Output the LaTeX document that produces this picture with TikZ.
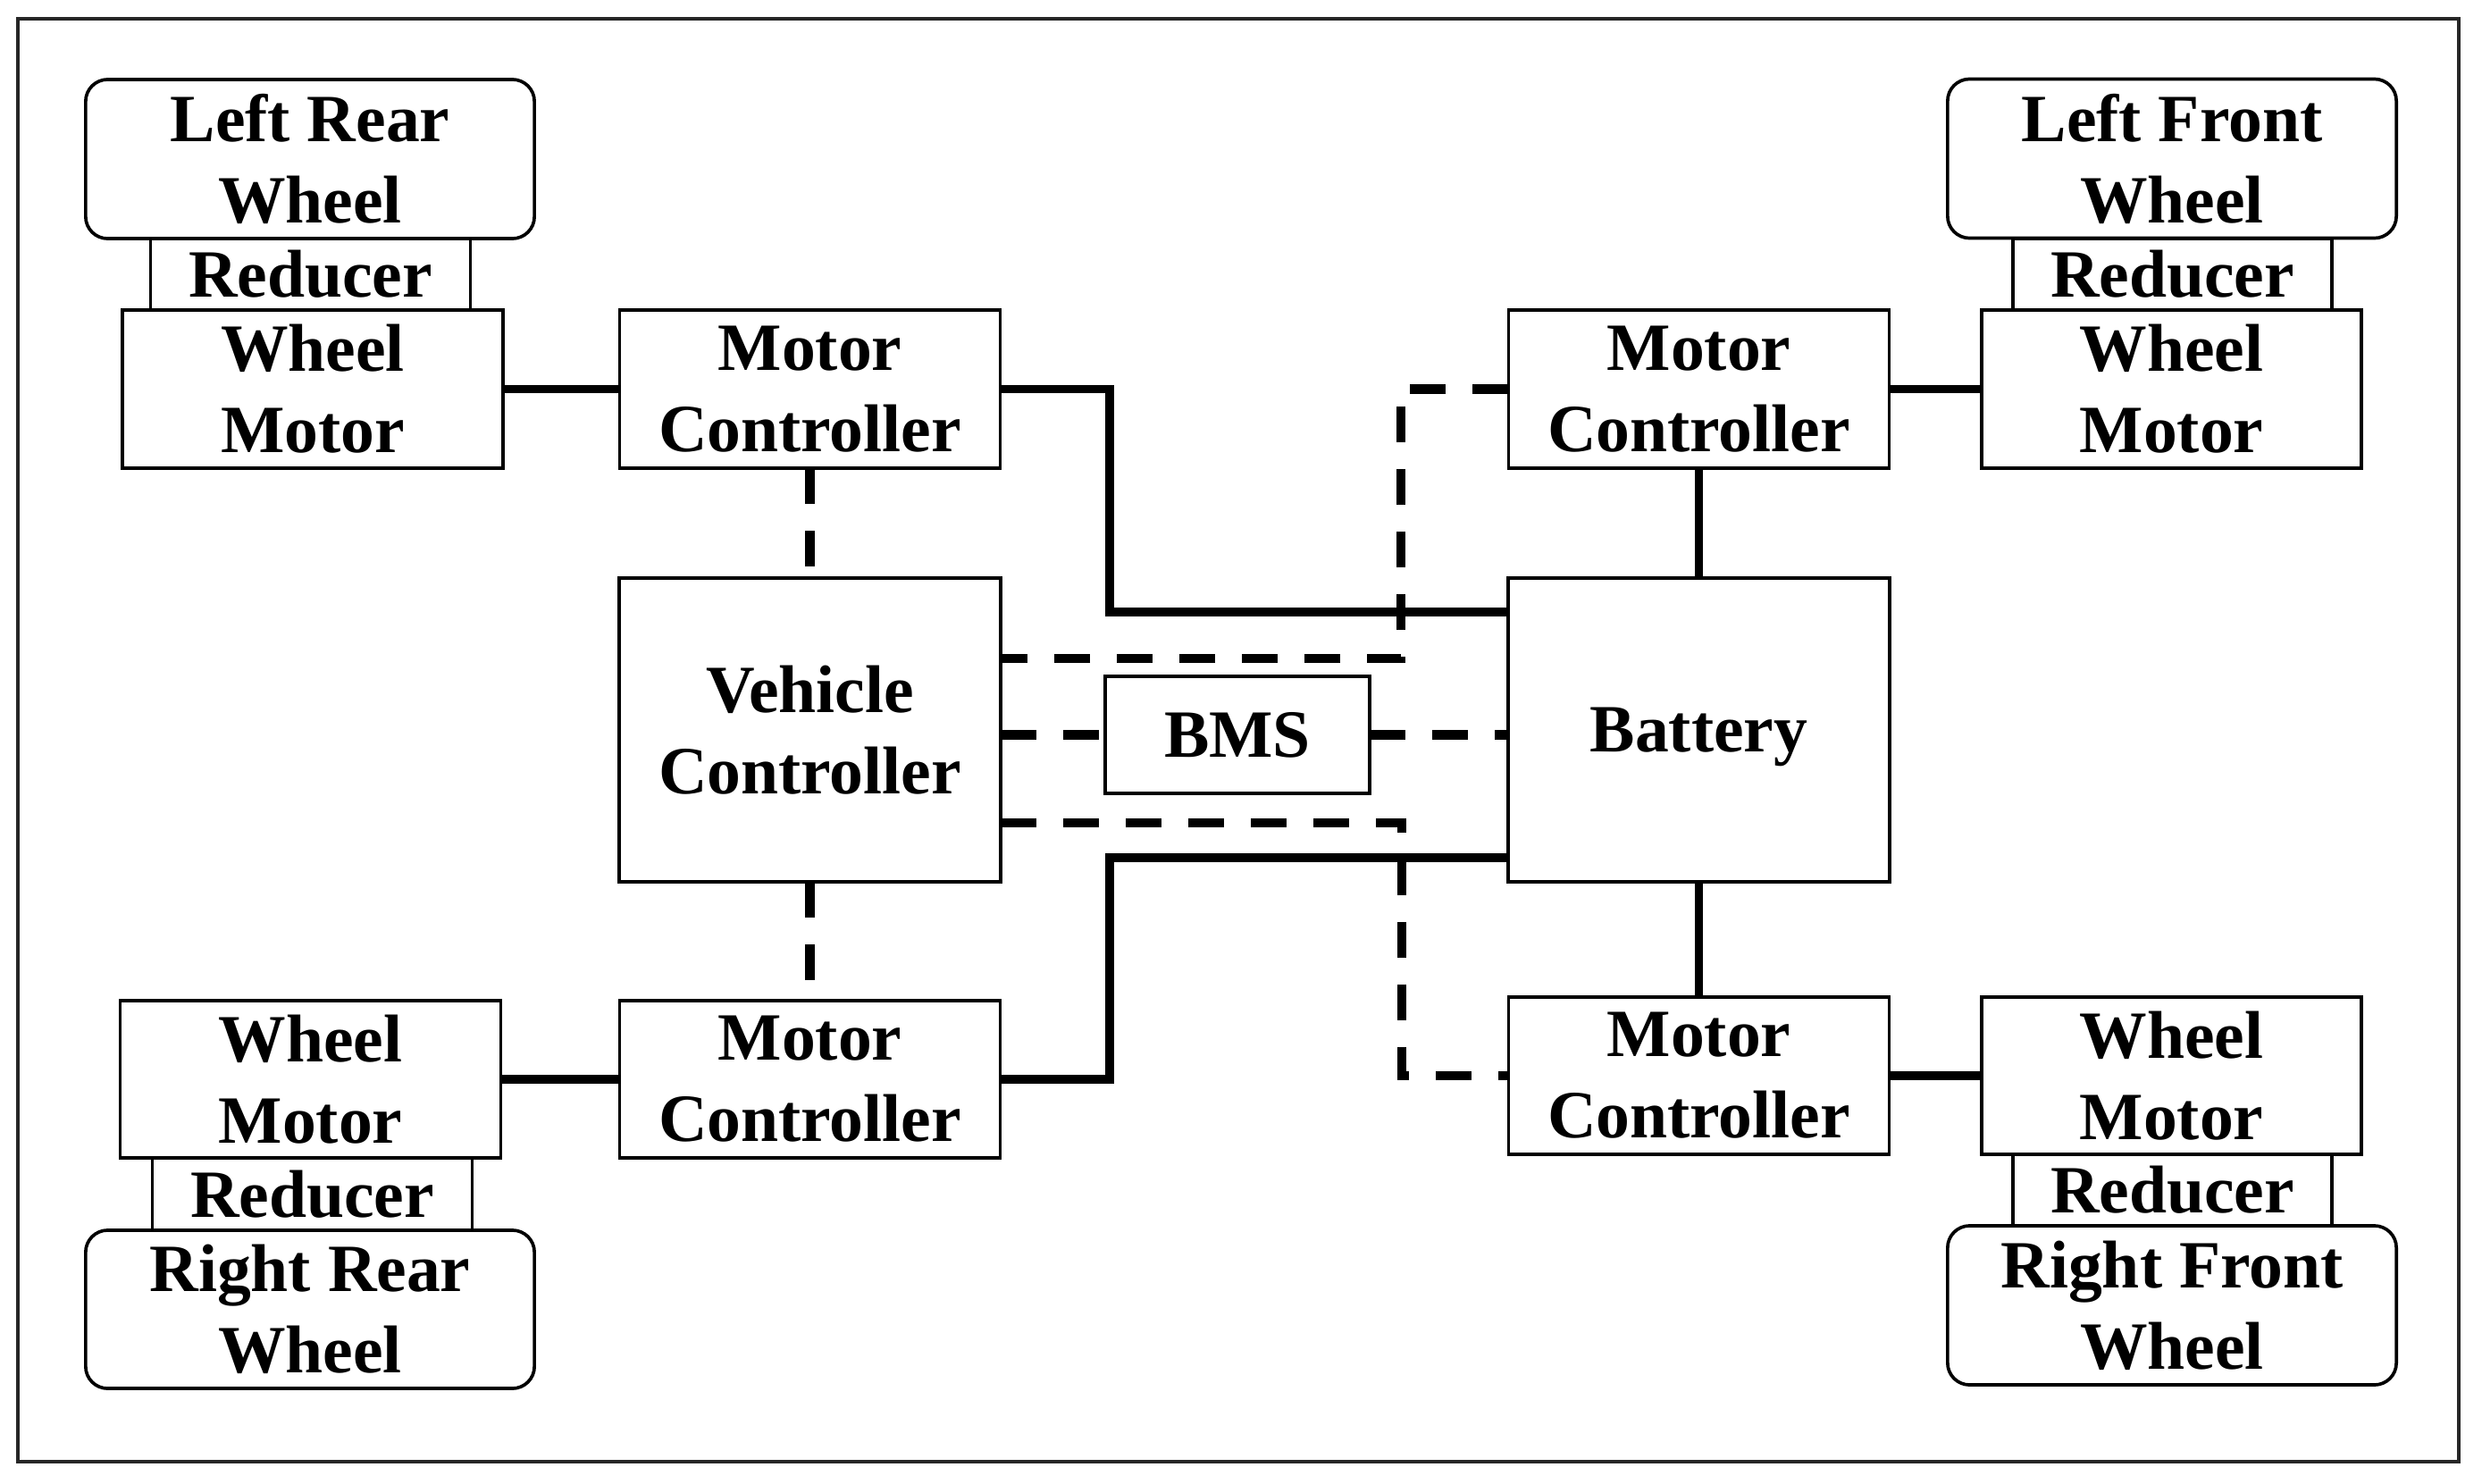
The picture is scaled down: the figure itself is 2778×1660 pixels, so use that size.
\documentclass[tikz,border=0pt]{standalone}
\usepackage{fontspec}
\setmainfont{Liberation Serif}
\begin{document}
\begin{tikzpicture}[x=0.01cm,y=-0.01cm,
  every node/.style={font=\fontsize{21.5}{25.9}\selectfont\bfseries, inner sep=0pt, outer sep=0pt, align=center},
  blk/.style={draw, line width=1.05pt, fill=white},
  wheelbox/.style={blk, rounded corners=7pt, minimum width=5.02cm, minimum height=1.78cm},
  redbox/.style={blk, minimum width=3.58cm, minimum height=0.80cm},
  unitbox/.style={blk, minimum width=4.26cm, minimum height=1.77cm},
  bigbox/.style={blk, minimum width=4.27cm, minimum height=3.40cm},
  power/.style={line width=2.75pt},
  signal/.style={line width=2.9pt, dash pattern=on 11.4pt off 8.5pt}]
\useasboundingbox (0,0) rectangle (2778,1660);
\draw[line width=1.3pt, black!85] (20,21) rectangle (2752,1636);

% left top group
\node[wheelbox] (LRW) at (347,178) {Left Rear\\Wheel};
\node[redbox] (RedTL) at (347.5,307) {Reducer};
\node[unitbox] (WMTL) at (350,435.5) {Wheel\\Motor};
\node[unitbox] (MCTL) at (906.5,435.5) {Motor\\Controller};

% center
\node[bigbox] (VC) at (906.5,817) {Vehicle\\Controller};
\node[blk, minimum width=2.96cm, minimum height=1.31cm, text depth=0pt] (BMS) at (1385,822.5) {BMS};
\node[bigbox, text depth=0pt] (Bat) at (1901.5,817) {Battery};

% right top group
\node[unitbox] (MCTR) at (1901.5,435.5) {Motor\\Controller};
\node[unitbox, minimum width=4.25cm] (WMTR) at (2430.5,435.5) {Wheel\\Motor};
\node[redbox, minimum width=3.57cm] (RedTR) at (2431.5,307) {Reducer};
\node[wheelbox] (LFW) at (2431,177.5) {Left Front\\Wheel};

% left bottom group
\node[unitbox, minimum height=1.76cm] (MCBL) at (906.5,1208) {Motor\\Controller};
\node[unitbox, minimum height=1.76cm] (WMBL) at (347.5,1208) {Wheel\\Motor};
\node[redbox, minimum height=0.81cm] (RedBL) at (349.5,1336.5) {Reducer};
\node[wheelbox, minimum height=1.77cm] (RRW) at (347,1465.5) {Right Rear\\Wheel};

% right bottom group
\node[unitbox, minimum height=1.76cm] (MCBR) at (1901.5,1204) {Motor\\Controller};
\node[unitbox, minimum width=4.25cm, minimum height=1.76cm] (WMBR) at (2430.5,1204) {Wheel\\Motor};
\node[redbox, minimum width=3.57cm] (RedBR) at (2431.5,1332) {Reducer};
\node[wheelbox] (RFW) at (2431,1461) {Right Front\\Wheel};

% junction coordinates
\coordinate (j1) at (1242,685);
\coordinate (j2) at (1242,960);
\coordinate (d1) at (1568,737);
\coordinate (d2) at (1569,921);

% power lines
\draw[power] (WMTL) -- (MCTL);
\draw[power] (WMBL) -- (MCBL);
\draw[power] (MCTR) -- (WMTR);
\draw[power] (MCBR) -- (WMBR);
\draw[power] (MCTL.east) -| (j1) -- (j1 -| Bat.west);
\draw[power] (MCBL.east) -| (j2) -- (j2 -| Bat.west);
\draw[power] (MCTR.south) -- (Bat.north);
\draw[power] (Bat.south) -- (MCBR.north);

% signal lines
\draw[signal] (MCTL.south) -- (VC.north);
\draw[signal] (VC.south) -- (MCBL.north);
\draw[signal] (MCTR.west) -| (d1) -- (d1 -| VC.east);
\draw[signal] (VC.east |- BMS.west) -- (BMS.west);
\draw[signal] (BMS.east) -- (BMS.east -| Bat.west);
\draw[signal] (VC.east |- d2) -- (d2) |- (MCBR.west);
\end{tikzpicture}
\end{document}
